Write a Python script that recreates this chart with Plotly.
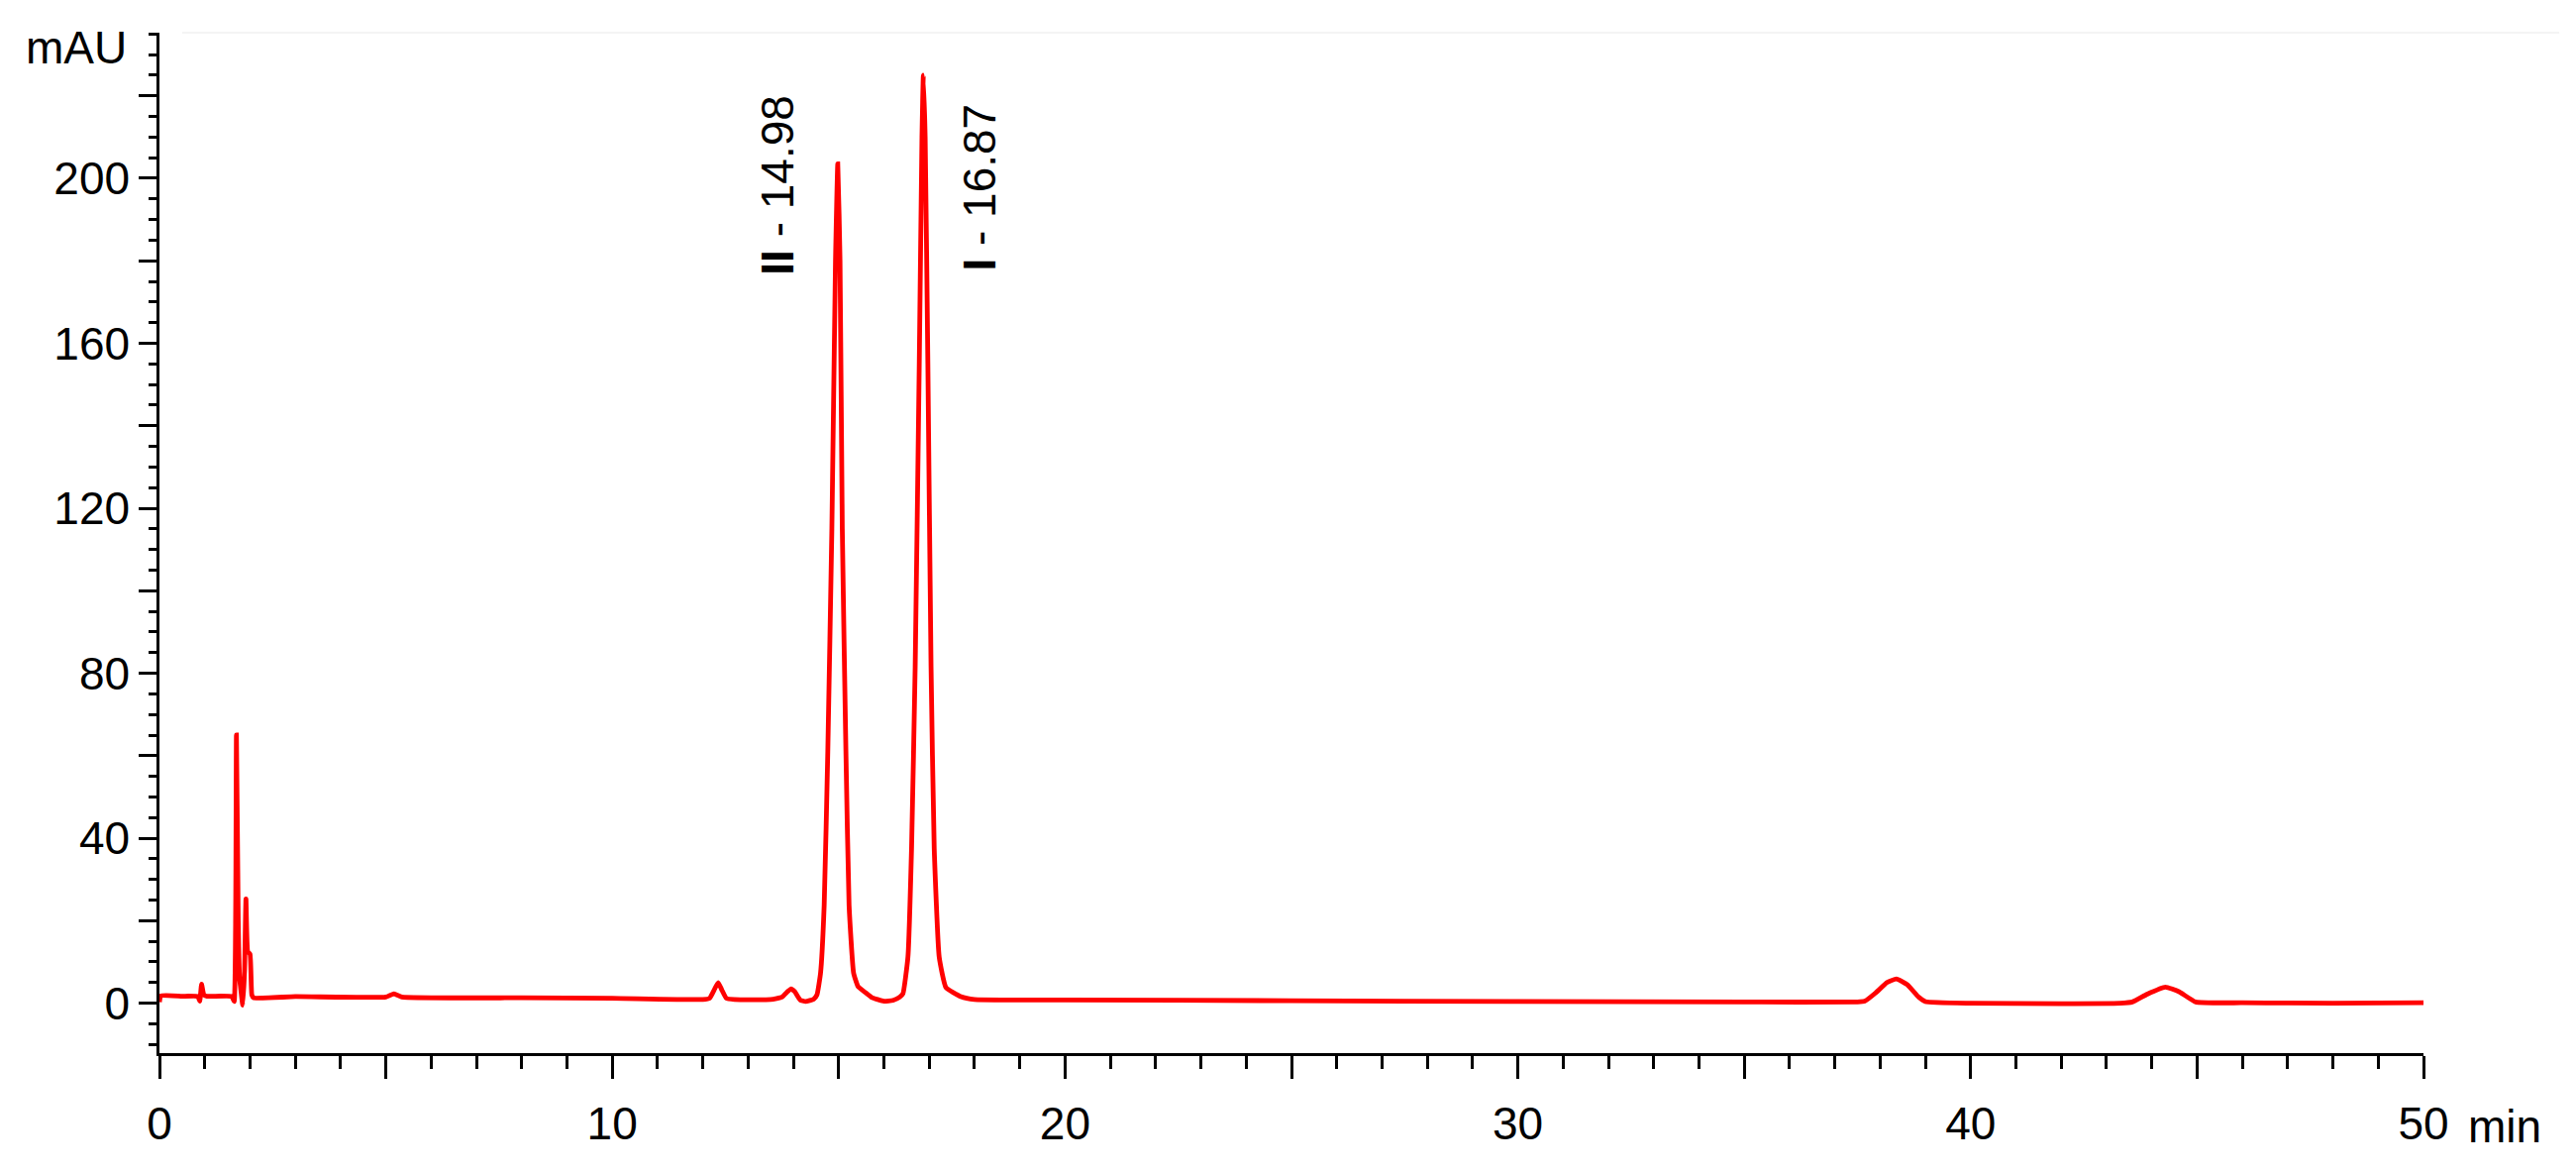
import plotly.graph_objects as go

# retention time (min) and detector signal (mAU)
time_min = [
    0.00, 0.03, 0.50, 0.85, 0.89, 0.93, 0.98, 1.05,
    1.60, 1.65, 1.70, 1.74, 1.77, 1.80, 1.84, 1.88, 1.91, 1.95, 2.00, 2.04, 2.08,
    3.00, 5.00, 5.18, 5.35, 8.00, 10.00, 12.00,
    12.15, 12.25, 12.34, 12.42, 12.52, 12.70,
    13.50, 13.75, 13.88, 13.95, 14.03, 14.15, 14.27, 14.45,
    14.52, 14.60, 14.68, 14.76, 14.85, 14.93, 14.98, 15.03, 15.08, 15.16, 15.23, 15.33,
    15.43, 15.60, 15.73, 16.00, 16.20, 16.35,
    16.42, 16.53, 16.61, 16.69, 16.78, 16.84, 16.87, 16.91, 16.97, 17.04, 17.11, 17.22,
    17.37, 17.70, 18.00, 20.00, 25.00, 30.00, 35.00,
    37.50, 37.66, 37.90, 38.15, 38.36, 38.60, 38.85, 39.00,
    40.00, 42.00, 43.30, 43.57, 43.90, 44.30, 44.60, 44.97,
    46.00, 48.00, 50.00,
]
signal_mau = [
    0.3, 1.8, 1.7, 1.6, 0.5, 4.6, 2.0, 1.7,
    1.6, 0.4, 65.0, 20.0, 6.0, 3.0, -0.5, 8.0, 25.3, 12.5, 11.9, 2.0, 1.3,
    1.6, 1.5, 2.3, 1.5, 1.3, 1.2, 0.9,
    1.2, 3.2, 5.0, 3.2, 1.2, 0.9,
    0.9, 1.5, 2.9, 3.5, 2.8, 0.8, 0.4, 1.0,
    2.0, 7.3, 23.7, 61.0, 115.0, 180.0, 203.5, 180.0, 115.0, 61.0, 23.7, 7.3,
    4.0, 2.5, 1.4, 0.5, 0.7, 1.5,
    2.3, 11.2, 37.6, 81.7, 155.0, 210.0, 225.0, 210.0, 155.0, 81.7, 37.6, 11.2,
    3.8, 1.6, 0.9, 0.8, 0.6, 0.4, 0.3,
    0.3, 0.5, 2.5, 5.0, 5.9, 4.5, 1.5, 0.4,
    0.0, -0.1, 0.0, 0.3, 2.2, 3.9, 2.8, 0.3,
    0.1, 0.0, 0.1,
]

# peak labels
peak_labels = ["<b>II</b> - 14.98", "<b>I</b> - 16.87"]
peak_label_x = [13.65, 18.09]
peak_label_y = [198.4, 197.7]

# axis ticks
x_tick_vals = [0, 5, 10, 15, 20, 25, 30, 35, 40, 45, 50]
x_tick_text = ["0", "", "10", "", "20", "", "30", "", "40", "", "50"]
y_tick_vals = [0, 20, 40, 60, 80, 100, 120, 140, 160, 180, 200, 220]
y_tick_text = ["0", "", "40", "", "80", "", "120", "", "160", "", "200", ""]

FONT = "Liberation Sans, Arial, sans-serif"
W, H = 2601, 1182
# the page body adds an 8px offset, so the margins are shifted to compensate
OFF = 8
L, R, T, B = 161 - OFF, 154 + OFF, 33 - OFF, 119 + OFF
PW, PH = W - L - R, H - T - B

fig = go.Figure()
fig.add_trace(go.Scatter(
    x=time_min, y=signal_mau, mode="lines",
    line=dict(color="#ff0000", width=4.8, shape="spline", smoothing=0.4),
    showlegend=False, hoverinfo="skip",
))

for text, px, py in zip(peak_labels, peak_label_x, peak_label_y):
    fig.add_annotation(x=px, y=py, text=text, textangle=-90, showarrow=False,
                       xanchor="center", yanchor="middle",
                       font=dict(family=FONT, size=46, color="black"))

# axis unit labels, placed in page pixels
fig.add_annotation(xref="paper", yref="paper", x=(130 - 161) / PW, y=(1063 - 48) / PH,
                   text="mAU", showarrow=False, xanchor="right", yanchor="middle",
                   font=dict(family=FONT, size=46, color="black"))
fig.add_annotation(xref="paper", yref="paper", x=(2490 - 161) / PW, y=-(1137 - 1063) / PH,
                   text="min", showarrow=False, xanchor="left", yanchor="middle",
                   font=dict(family=FONT, size=46, color="black"))

# faint frame line along the top of the plot
fig.add_shape(type="line", xref="paper", yref="paper", x0=0.01, x1=1.06, y0=1, y1=1,
              line=dict(color="#f4f4f4", width=2))

axis_common = dict(
    showline=True, linecolor="black", linewidth=2.5,
    showgrid=False, zeroline=False,
    ticks="outside", tickcolor="black", tickwidth=2.5,
    tickmode="array",
    tickfont=dict(family=FONT, size=46, color="black"),
)

fig.update_xaxes(
    range=[0, 50], tickvals=x_tick_vals, ticktext=x_tick_text, ticklen=23,
    ticklabelstandoff=6,
    minor=dict(ticks="outside", ticklen=13, tickwidth=2.5, tickcolor="black", tick0=0, dtick=1),
    **axis_common,
)
fig.update_yaxes(
    range=[-12.1, 235.3], tickvals=y_tick_vals, ticktext=y_tick_text, ticklen=18,
    minor=dict(ticks="outside", ticklen=8, tickwidth=2.5, tickcolor="black", tick0=0, dtick=5),
    **axis_common,
)

fig.update_layout(
    width=W, height=H,
    margin=dict(l=L, r=R, t=T, b=B, pad=0),
    paper_bgcolor="white", plot_bgcolor="white",
    font=dict(family=FONT, size=46, color="black"),
)

fig.write_html("out.html")
